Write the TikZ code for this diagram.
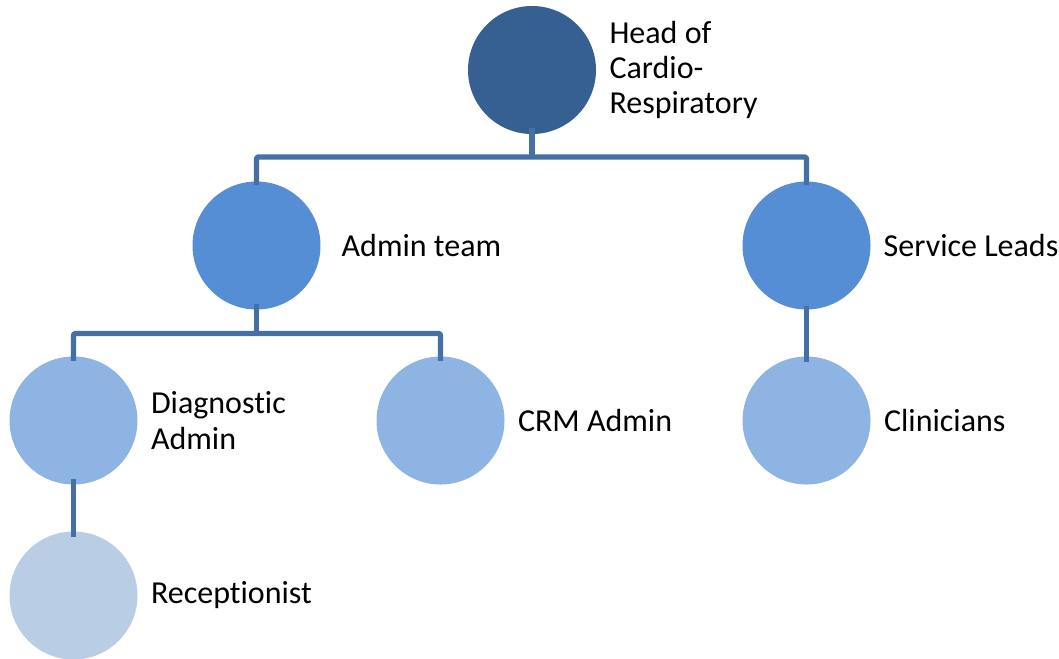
\documentclass[tikz,border=0pt]{standalone}
\usepackage{fontspec}
\setmainfont{Carlito}[Ligatures=NoCommon]
\usetikzlibrary{positioning}

\definecolor{headblue}{RGB}{54,96,146}
\definecolor{midblue}{RGB}{85,142,213}
\definecolor{lowblue}{RGB}{142,180,227}
\definecolor{paleblue}{RGB}{185,205,229}
\definecolor{linkblue}{RGB}{68,112,166}

\tikzset{
  bubble/.style={circle, minimum size=96pt, inner sep=0pt, draw=none},
  caption/.style={anchor=west, inner sep=0pt, align=left, font=\fontsize{24}{26.5}\selectfont},
  link/.style={draw=linkblue, line width=4pt, line join=round, rounded corners=1.5pt}
}

\begin{document}
\begin{tikzpicture}[x=0.75pt,y=0.75pt,yscale=-1,xscale=1]
\useasboundingbox (0,0) rectangle (1059,658);

%Circles
\node [bubble, fill=headblue] (head) at (532,70) {};
\node [bubble, fill=midblue] (admin) at (256.5,245.5) {};
\node [bubble, fill=midblue] (leads) at (806.5,245.5) {};
\node [bubble, fill=lowblue] (diag) at (73.5,420.5) {};
\node [bubble, fill=lowblue] (crm) at (440.5,420.5) {};
\node [bubble, fill=lowblue] (clin) at (806.5,420.5) {};
\node [bubble, fill=paleblue] (recep) at (73.5,595.5) {};

%Labels
\node [caption, right=9.75pt of head] (headtxt) {Head of\\Cardio-\\Respiratory};
\node [caption, right=15.5pt of admin] (admintxt) {Admin team};
\node [caption, right=9.5pt of leads] (leadstxt) {Service Leads};
\node [caption, right=9.75pt of diag] (diagtxt) {Diagnostic\\Admin};
\node [caption, right=9.75pt of crm] (crmtxt) {CRM Admin};
\node [caption, right=9.75pt of clin] (clintxt) {Clinicians};
\node [caption, right=9.75pt of recep] (receptxt) {Receptionist};

%Bars
\coordinate (topbar) at (532,157);
\coordinate (adminbar) at (256.5,333.5);

%Connectors
\draw [link] ([yshift=-4.5pt]head.south) -- (head.south |- topbar);
\draw [link] ([yshift=3pt]admin.north) |- (topbar) -| ([yshift=3pt]leads.north);
\draw [link] ([yshift=-4.5pt]admin.south) -- (adminbar);
\draw [link] ([yshift=3.5pt]diag.north) |- (adminbar) -| ([yshift=3.5pt]crm.north);
\draw [link] ([yshift=-3pt]leads.south) -- ([yshift=4pt]clin.north);
\draw [link] ([yshift=-4.5pt]diag.south) -- ([yshift=4pt]recep.north);

\end{tikzpicture}
\end{document}
